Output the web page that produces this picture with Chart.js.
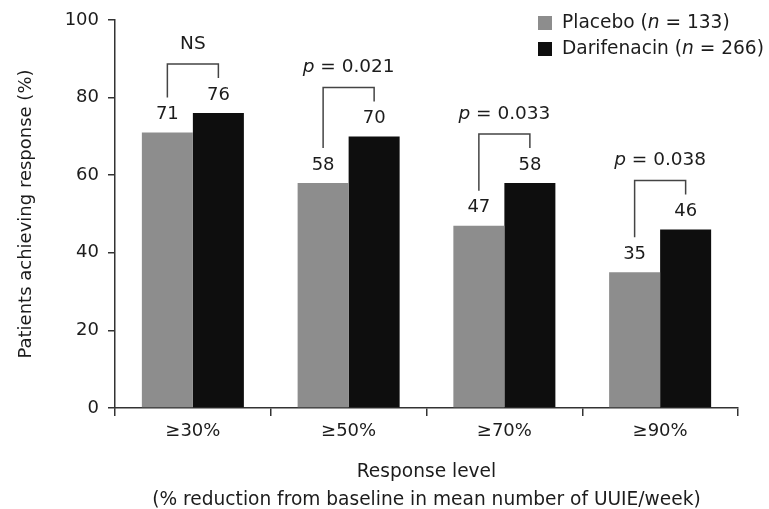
<!DOCTYPE html>
<html>
<head>
<meta charset="utf-8">
<script src="https://cdn.jsdelivr.net/npm/chart.js@4/dist/chart.umd.min.js"></script>
<style>
  html, body { margin: 0; padding: 0; background: #fff; }
  #wrap { width: 769px; height: 509px; position: relative; }
</style>
</head>
<body>
<div id="wrap"><canvas id="c" width="769" height="509"></canvas></div>
<script>
// ---- Data ----
const categories = ['≥30%', '≥50%', '≥70%', '≥90%'];
const placebo = [71, 58, 47, 35];
const darifenacin = [76, 70, 58, 46];
const sigLabels = ['NS', 'p = 0.021', 'p = 0.033', 'p = 0.038'];
const seriesNames = ['Placebo', 'Darifenacin'];
const seriesN = [133, 266];
const yTicks = [0, 20, 40, 60, 80, 100];

const FONT = 'DejaVu Sans';
const TEXT = '#1c1c1c';
const AXIS = '#333';
const COLORS = ['#8d8d8d', '#0e0e0e'];

function drawMixed(ctx, parts, x, y, align, size) {
  let total = 0;
  parts.forEach(p => { ctx.font = (p.italic ? 'oblique ' : '') + size + 'px "' + FONT + '"'; p.w = ctx.measureText(p.t).width; total += p.w; });
  let cx = align === 'center' ? x - total / 2 : x;
  ctx.textAlign = 'left';
  parts.forEach(p => { ctx.font = (p.italic ? 'oblique ' : '') + size + 'px "' + FONT + '"'; ctx.fillText(p.t, cx, y); cx += p.w; });
}

const annot = {
  id: 'annot',
  afterDatasetsDraw(chart) {
    const ctx = chart.ctx;
    const m0 = chart.getDatasetMeta(0), m1 = chart.getDatasetMeta(1);
    ctx.save();
    ctx.fillStyle = TEXT;
    ctx.strokeStyle = '#444';
    ctx.lineWidth = 1.5;
    ctx.textBaseline = 'middle';
    categories.forEach((c, i) => {
      const b0 = m0.data[i], b1 = m1.data[i];
      const l0 = b0.y - 18, l1 = b1.y - 18;
      ctx.font = '18px "' + FONT + '"';
      ctx.textAlign = 'center';
      ctx.fillText(String(placebo[i]), b0.x, l0);
      ctx.fillText(String(darifenacin[i]), b1.x, l1);
      const top = Math.min(l0, l1) - 31;
      ctx.beginPath();
      ctx.moveTo(b0.x, l0 - 17);
      ctx.lineTo(b0.x, top);
      ctx.lineTo(b1.x, top);
      ctx.lineTo(b1.x, l1 - 17);
      ctx.stroke();
      const s = sigLabels[i];
      const cx = (b0.x + b1.x) / 2;
      if (s.startsWith('p ')) {
        drawMixed(ctx, [{t: 'p', italic: true}, {t: s.slice(1)}], cx, top - 20, 'center', 18.5);
      } else {
        drawMixed(ctx, [{t: s}], cx, top - 20, 'center', 18.5);
      }
    });
    // legend
    const rows = [23, 49];
    seriesNames.forEach((name, k) => {
      ctx.fillStyle = COLORS[k];
      ctx.fillRect(538, rows[k] - 7, 14, 14);
      ctx.fillStyle = TEXT;
      ctx.textBaseline = 'middle';
      drawMixed(ctx, [{t: name + ' ('}, {t: 'n', italic: true}, {t: ' = ' + seriesN[k] + ')'}], 562, rows[k], 'left', 18.6);
    });
    ctx.restore();
  }
};

new Chart(document.getElementById('c'), {
  type: 'bar',
  data: {
    labels: categories,
    datasets: [
      { label: seriesNames[0], data: placebo, backgroundColor: COLORS[0], borderWidth: 0 },
      { label: seriesNames[1], data: darifenacin, backgroundColor: COLORS[1], borderWidth: 0 }
    ]
  },
  options: {
    responsive: false,
    animation: false,
    devicePixelRatio: 1,
    layout: { padding: { left: 16, right: 31, top: 20, bottom: 0 } },
    categoryPercentage: 0.655,
    barPercentage: 1.0,
    plugins: { legend: { display: false }, tooltip: { enabled: false } },
    scales: {
      x: {
        grid: { drawOnChartArea: false, drawTicks: true, tickLength: 8, color: AXIS, lineWidth: 1.5, offset: true },
        border: { display: true, color: AXIS, width: 1.5 },
        ticks: { font: { family: FONT, size: 18 }, color: TEXT, padding: 5 },
        title: {
          display: true,
          text: ['Response level', '(% reduction from baseline in mean number of UUIE/week)'],
          font: { family: FONT, size: 18.6, lineHeight: 28 / 18.6 },
          color: TEXT,
          padding: { top: 0, bottom: -5 }
        },
        afterFit(scale) { scale.height = 101; }
      },
      y: {
        min: 0, max: 100,
        afterBuildTicks(scale) { scale.ticks = yTicks.map(v => ({ value: v })); },
        grid: { drawOnChartArea: false, drawTicks: true, tickLength: 7, color: AXIS, lineWidth: 1.5 },
        border: { display: true, color: AXIS, width: 1.5 },
        ticks: { font: { family: FONT, size: 18 }, color: TEXT, padding: 9 },
        title: {
          display: true,
          text: 'Patients achieving response (%)',
          font: { family: FONT, size: 18 },
          color: TEXT,
          padding: { top: 0, bottom: 0 }
        },
        afterFit(scale) { scale.width = 99; }
      }
    }
  },
  plugins: [annot]
});
</script>
</body>
</html>
